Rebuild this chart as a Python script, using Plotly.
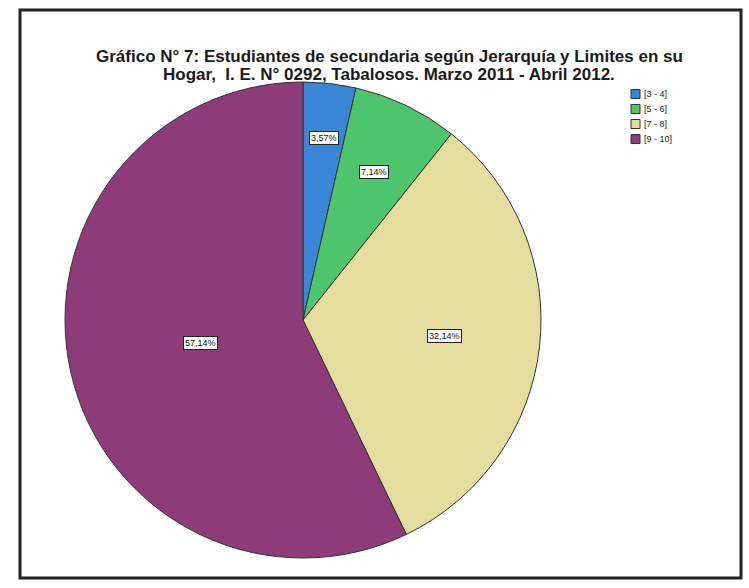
import math
import plotly.graph_objects as go

# ---- data ----
categories = ["[3 - 4]", "[5 - 6]", "[7 - 8]", "[9 - 10]"]
percentages = [3.57, 7.14, 32.14, 57.14]
pct_labels = ["3,57%", "7,14%", "32,14%", "57,14%"]
title_lines = [
    "Gráfico N° 7: Estudiantes de secundaria según Jerarquía y Limites en su",
    "Hogar,  I. E. N° 0292, Tabalosos. Marzo 2011 - Abril 2012.",
]

# ---- style ----
colors = ["#3a86d6", "#4cc56c", "#e4dd9e", "#8e3b7a"]
W, H = 749, 588
cx, cy, R = 303, 320, 238          # pie centre / radius in pixels
label_rfrac = [0.77, 0.69, 0.60, 0.44]
leg_x, leg_y0, leg_dy, leg_sq = 631, 94, 15, 9
title_x, title_y0, title_dy = 389, 56, 18

fig = go.Figure()
fig.add_trace(go.Pie(
    labels=categories,
    values=percentages,
    sort=False,
    direction="clockwise",
    rotation=0,
    textinfo="none",
    hoverinfo="label+percent",
    showlegend=False,
    marker=dict(colors=colors, line=dict(color="#333333", width=1)),
    domain=dict(x=[(cx - R) / W, (cx + R) / W],
                y=[1 - (cy + R) / H, 1 - (cy - R) / H]),
))

# labels placed at each slice's mid-angle (derived from the values)
total = sum(percentages)
cum = 0.0
annotations = []
for v, t, rf in zip(percentages, pct_labels, label_rfrac):
    mid = (cum + v / 2) / total * 2 * math.pi
    cum += v
    px = cx + rf * R * math.sin(mid)
    py = cy - rf * R * math.cos(mid)
    annotations.append(dict(
        x=px / W, y=1 - py / H, xref="paper", yref="paper",
        xanchor="center", yanchor="middle",
        text=t, showarrow=False,
        font=dict(family="Liberation Sans", size=9, color="#111111"),
        bgcolor="white", bordercolor="#222222", borderwidth=1, borderpad=1,
    ))

for i, line in enumerate(title_lines):
    annotations.append(dict(
        x=title_x / W, y=1 - (title_y0 + i * title_dy) / H,
        xref="paper", yref="paper", xanchor="center", yanchor="middle",
        text=f"<b>{line}</b>", showarrow=False,
        font=dict(family="Liberation Sans", size=17, color="#1a1a1a"),
    ))

shapes = [dict(type="rect", xref="paper", yref="paper",
               x0=20 / W, x1=741 / W, y0=1 - 578 / H, y1=1 - 10 / H,
               line=dict(color="#222222", width=3))]

# compact legend (squares + text) built from the categories
for i, (cat, col) in enumerate(zip(categories, colors)):
    yc = leg_y0 + i * leg_dy
    shapes.append(dict(type="rect", xref="paper", yref="paper",
                       x0=leg_x / W, x1=(leg_x + leg_sq) / W,
                       y0=1 - (yc + leg_sq / 2) / H, y1=1 - (yc - leg_sq / 2) / H,
                       fillcolor=col, line=dict(color="#333333", width=1)))
    annotations.append(dict(
        x=(leg_x + leg_sq + 2) / W, y=1 - yc / H, xref="paper", yref="paper",
        xanchor="left", yanchor="middle", text=cat, showarrow=False,
        font=dict(family="Liberation Sans", size=9, color="#222222"),
    ))

fig.update_layout(
    width=W, height=H,
    margin=dict(l=0, r=0, t=0, b=0),
    paper_bgcolor="white",
    showlegend=False,
    annotations=annotations,
    shapes=shapes,
)

fig.write_html("out.html", config={"displayModeBar": False},
               post_script="document.body.style.margin='0px';")
